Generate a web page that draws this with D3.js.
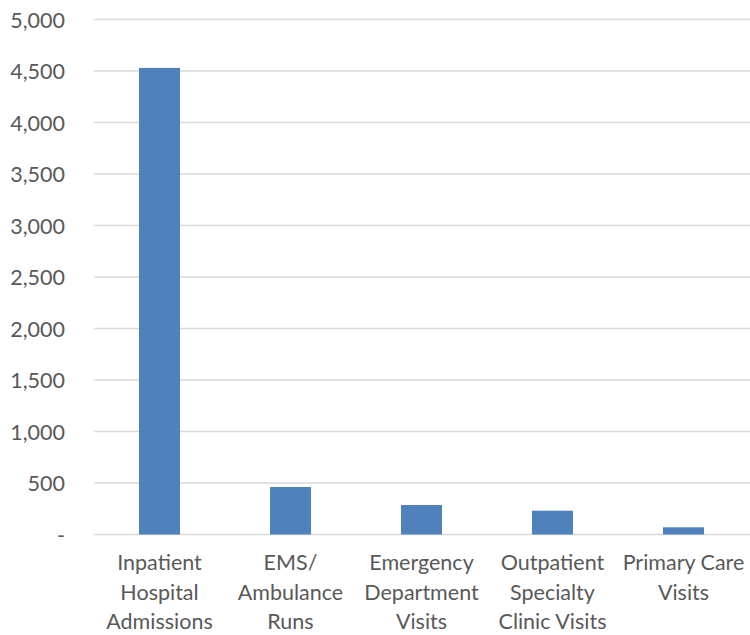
<!DOCTYPE html>
<html>
<head>
<meta charset="utf-8">
<script src="https://cdn.jsdelivr.net/npm/d3@7"></script>
<style>
  html, body { margin: 0; padding: 0; background: #fff; }
  svg { display: block; }
  text { font-family: Lato, "Open Sans", sans-serif; fill: #595959; }
</style>
</head>
<body>
<svg id="chart" width="750" height="635"></svg>
<script>
// Encounter counts by service type
const categories = [
  "Inpatient Hospital Admissions",
  "EMS/ Ambulance Runs",
  "Emergency Department Visits",
  "Outpatient Specialty Clinic Visits",
  "Primary Care Visits"
];
const categoryLines = [
  ["Inpatient", "Hospital", "Admissions"],
  ["EMS/", "Ambulance", "Runs"],
  ["Emergency", "Department", "Visits"],
  ["Outpatient", "Specialty", "Clinic Visits"],
  ["Primary Care", "Visits"]
];
const values = [4530, 461, 286, 231, 70];
const yTicks = [0, 500, 1000, 1500, 2000, 2500, 3000, 3500, 4000, 4500, 5000];

const svg = d3.select("#chart");
const plot = { left: 94, right: 749, top: 19.5, bottom: 534.5 };

const x = d3.scaleBand()
  .domain(categories)
  .range([plot.left, plot.right])
  .paddingInner(0.687)
  .paddingOuter(0.3435);

const y = d3.scaleLinear()
  .domain([0, 5000])
  .range([plot.bottom, plot.top]);

const fmt = v => v === 0 ? "-" : d3.format(",")(v);

// Horizontal gridlines (the zero line doubles as the baseline)
svg.append("g")
  .selectAll("line")
  .data(yTicks)
  .join("line")
  .attr("x1", plot.left)
  .attr("x2", 750)
  .attr("y1", d => y(d))
  .attr("y2", d => y(d))
  .attr("stroke", "#d9d9d9")
  .attr("stroke-width", 1.3);

// Y axis labels
const yAxis = d3.axisLeft(y).tickValues(yTicks).tickFormat(fmt).tickSize(0).tickPadding(0);
const gy = svg.append("g")
  .attr("transform", `translate(${plot.left - 29},0)`)
  .call(yAxis);
gy.select(".domain").remove();
gy.selectAll("text")
  .attr("dy", "0.36em")
  .style("font-size", "21.5px")
  .style("fill", "#595959")
  .style("font-family", "Lato, 'Open Sans', sans-serif");

// Bars
svg.append("g")
  .selectAll("rect")
  .data(values)
  .join("rect")
  .attr("x", (d, i) => x(categories[i]))
  .attr("width", x.bandwidth())
  .attr("y", d => y(d))
  .attr("height", d => y(0) - y(d))
  .attr("fill", "#4f81bd");

// Category labels, wrapped over several lines
const gx = svg.append("g");
categories.forEach((c, i) => {
  const t = gx.append("text")
    .attr("x", x(c) + x.bandwidth() / 2)
    .attr("text-anchor", "middle")
    .style("font-size", "21.5px");
  categoryLines[i].forEach((line, j) => {
    t.append("tspan")
      .attr("x", x(c) + x.bandwidth() / 2)
      .attr("y", 570 + j * 29.5)
      .text(line);
  });
});
</script>
</body>
</html>
